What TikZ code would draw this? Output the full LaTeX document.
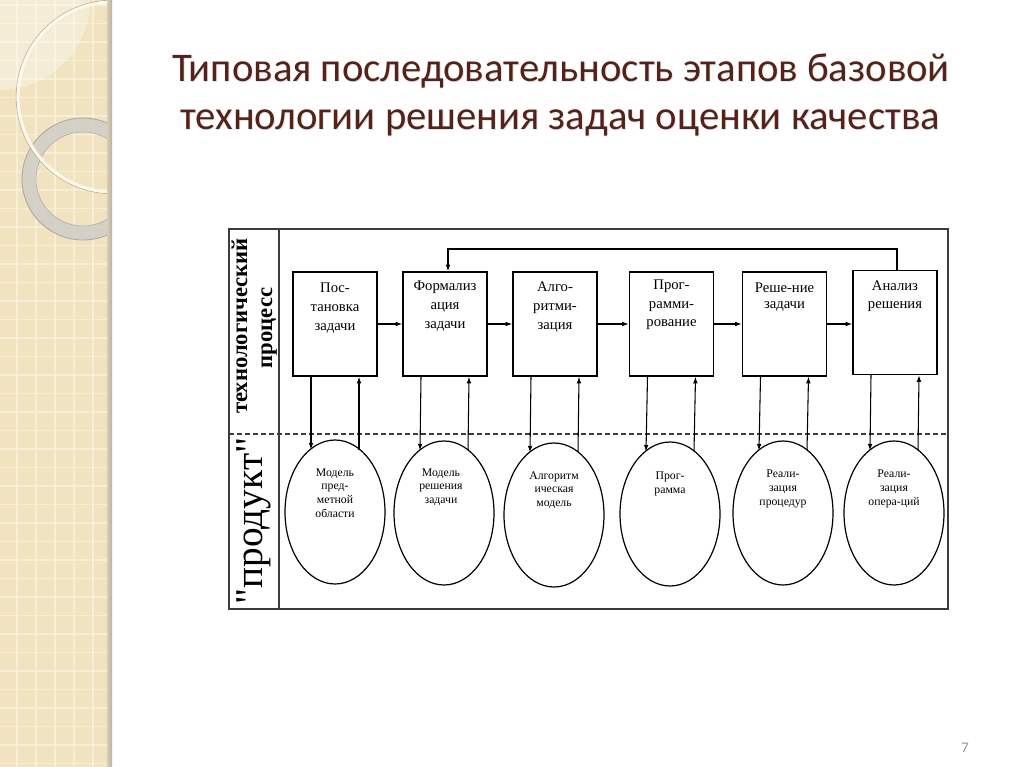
\documentclass[tikz,border=0pt]{standalone}
\usepackage{fontspec}
\setmainfont{Liberation Serif}[Ligatures=TeXOff]
\newfontfamily\titlefont{Carlito}
\usetikzlibrary{arrows.meta,calc,shapes.geometric}
\definecolor{titlec}{RGB}{84,34,24}
\definecolor{panelc}{RGB}{241,226,192}
\definecolor{gridc}{RGB}{252,246,230}
\definecolor{ringc}{RGB}{252,248,236}
\definecolor{ringsh}{RGB}{165,145,115}
\definecolor{grayring}{RGB}{208,206,200}
\definecolor{framec}{RGB}{60,60,60}
\tikzset{
  stage/.style={draw=black, line width=1pt, minimum width=63pt, minimum height=78pt, inner sep=0pt},
  prod/.style={ellipse, draw=black, line width=0.9pt, minimum width=75pt, minimum height=108pt, inner sep=0pt},
  boxtxt/.style={align=center, inner sep=0pt, font=\fontsize{11}{14}\selectfont},
  elltxt/.style={align=center, inner sep=0pt, font=\fontsize{8.8}{10.2}\selectfont},
  arr/.style={line width=0.8pt, -{Latex[length=5pt,width=3.5pt]}},
  ttl/.style={anchor=base, inner sep=0pt, font=\titlefont\fontsize{30.5}{30.5}\selectfont}
}
\begin{document}
\begin{tikzpicture}[x=0.75pt,y=-0.75pt]
\useasboundingbox (0,0) rectangle (1024,767);
\fill[white] (0,0) rectangle (1024,767);
% left decorative panel
\fill[panelc] (0,0) rectangle (107,767);
\begin{scope}
\clip (0,0) rectangle (107,767);
\foreach \gx in {17,36,55,74,93} \draw[gridc, line width=1.2pt, opacity=0.6] (\gx,0) -- (\gx,767);
\foreach \gy in {5,23.5,...,767} \draw[gridc, line width=1.2pt, opacity=0.6] (0,\gy) -- (107,\gy);
\fill[white, opacity=0.35] (0,0) circle[radius=90];
\fill[grayring, opacity=0.85, even odd rule] (83,179) circle[radius=61] (83,179) circle[radius=47];
\draw[gray!70, line width=0.6pt] (83,179) circle[radius=61];
\draw[gray!60, line width=0.5pt] (83,179) circle[radius=47];
\draw[ringsh, line width=1pt, opacity=0.8] (113,97) circle[radius=96.5];
\draw[ringc, line width=2.4pt] (113,97) circle[radius=95];
\end{scope}
\shade[left color={rgb,255:red,214;green,204;blue,184}, right color={rgb,255:red,188;green,178;blue,158}] (107,0) rectangle (112,767);
% title
\node[ttl, text=black, opacity=0.1] (ttl1s) at (562,83) {Типовая последовательность этапов базовой};
\node[ttl, text=black, opacity=0.1] (ttl2s) at (561,130) {технологии решения задач оценки качества};
\node[ttl, text=titlec] (ttl1) at (561,82) {Типовая последовательность этапов базовой};
\node[ttl, text=titlec] (ttl2) at (560,129) {технологии решения задач оценки качества};
% frame
\draw[framec, line width=0.9pt] (229,229) rectangle (948,609);
\draw[framec, line width=0.9pt] (279,229) -- (279,609);
\draw[framec, line width=0.8pt, dash pattern=on 3.5pt off 2.5pt] (229,434) -- (948,434);
% left column labels
\node[rotate=90, anchor=base, inner sep=0pt, font=\bfseries\fontsize{17}{17}\selectfont] (tp1) at (247,326) {технологический};
\node[rotate=90, anchor=base, inner sep=0pt, font=\bfseries\fontsize{17}{17}\selectfont] (tp2) at (272,328) {процесс};
\node[rotate=90, anchor=base, inner sep=0pt, font=\fontsize{29.5}{29.5}\selectfont] (pr) at (262,521) {"продукт"};
% stage boxes
\node[stage] (b1) at (335,324) {};
\node[stage] (b2) at (445,324) {};
\node[stage] (b3) at (555,324) {};
\node[stage] (b4) at (671.5,324) {};
\node[stage] (b5) at (784.5,324) {};
\node[stage] (b6) at (895,322.5) {};
\node[boxtxt] (t1) at (335,308) {Пос-\\тановка\\задачи};
\node[boxtxt] (t2) at (445,306) {Формализ\\ация\\задачи};
\node[boxtxt] (t3) at (555,307) {Алго-\\ритми-\\зация};
\node[boxtxt] (t4) at (671.5,305) {Прог-\\рамми-\\рование};
\node[boxtxt, font=\fontsize{11}{12.5}\selectfont] (t5) at (784.5,297) {Реше-ние\\задачи};
\node[boxtxt, font=\fontsize{11}{13.5}\selectfont] (t6) at (895,296) {Анализ\\решения};
% product ellipses
\node[prod] (e1) at (335,512) {};
\node[prod] (e2) at (444,513) {};
\node[prod] (e3) at (554,515) {};
\node[prod] (e4) at (670,514) {};
\node[prod] (e5) at (783,513) {};
\node[prod] (e6) at (894,513) {};
\node[elltxt] (l1) at (335,493) {Модель\\пред-\\метной\\области};
\node[elltxt] (l2) at (441,487) {Модель\\решения\\задачи};
\node[elltxt] (l3) at (554,490) {Алгоритм\\ическая\\модель};
\node[elltxt] (l4) at (670,484) {Прог-\\рамма};
\node[elltxt] (l5) at (783,489) {Реали-\\зация\\процедур};
\node[elltxt] (l6) at (894,489) {Реали-\\зация\\опера-ций};
% horizontal arrows
\draw[arr] (b1.east) -- (b2.west);
\draw[arr] (b2.east) -- (b3.west);
\draw[arr] (b3.east) -- (b4.west);
\draw[arr] (b4.east) -- (b5.west);
\draw[arr] (b5.east) -- (b5.east -| b6.west);
% feedback
\coordinate (fb) at (0,249);
\draw[arr] ($(b6.north)+(2,0)$) -- ($(b6.north |- fb)+(2,0)$) -| ($(b2.north)+(3,0)$);
% vertical arrows
\foreach \b/\e in {1/1,2/2,3/3,4/4,5/5,6/6}{
  \draw[arr] ($(b\b.south)+(-24,0)$) -- ($(e\e.center)+(-24,-62.5)$);
  \draw[arr] ($(e\e.center)+(24,-62.5)$) -- ($(b\b.south)+(24,0)$);
}
% page number
\node[font=\titlefont\fontsize{11}{11}\selectfont, text={rgb,255:red,150;green,150;blue,150}] (pg) at (965,748) {7};
\end{tikzpicture}
\end{document}
